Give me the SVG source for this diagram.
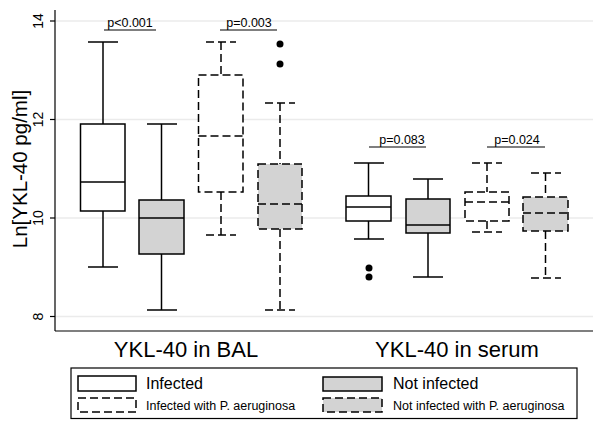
<svg xmlns="http://www.w3.org/2000/svg" width="600" height="429" viewBox="0 0 600 429">
<style>
.grid{stroke:#ebebeb;stroke-width:1.5}
.ax{stroke:#000;stroke-width:1.2;fill:none}
.bx{stroke:#000;stroke-width:1.5;fill:#fff}
.ln{stroke:#000;stroke-width:1.5;fill:none}
.g{fill:#d3d3d3}
.d{stroke-dasharray:8,4}
.pv{stroke:#000;stroke-width:1.2}
text{font-family:"Liberation Sans",Arial,sans-serif;fill:#000}
.tk{font-size:14px;text-anchor:middle}
.p{font-size:12.5px;text-anchor:middle}
.grp{font-size:22px;text-anchor:middle}
</style>
<rect width="600" height="429" fill="#fff"/>
<g id="grid">
<line class="grid" x1="55" y1="21" x2="593" y2="21"/>
<line class="grid" x1="55" y1="119.5" x2="593" y2="119.5"/>
<line class="grid" x1="55" y1="218" x2="593" y2="218"/>
<line class="grid" x1="55" y1="316.5" x2="593" y2="316.5"/>
</g>
<g id="axes">
<line class="ax" x1="55" y1="10" x2="55" y2="331"/>
<line class="ax" x1="55" y1="331" x2="593" y2="331"/>
<line class="ax" x1="50" y1="21" x2="55" y2="21"/>
<line class="ax" x1="50" y1="119.5" x2="55" y2="119.5"/>
<line class="ax" x1="50" y1="218" x2="55" y2="218"/>
<line class="ax" x1="50" y1="316.5" x2="55" y2="316.5"/>
<text class="tk" transform="translate(43,21) rotate(-90)">14</text>
<text class="tk" transform="translate(43,119.5) rotate(-90)">12</text>
<text class="tk" transform="translate(43,218) rotate(-90)">10</text>
<text class="tk" transform="translate(43,316.5) rotate(-90)">8</text>
<text transform="translate(27,169) rotate(-90)" font-size="20.5" text-anchor="middle">Ln[YKL-40 pg/ml]</text>
</g>
<g id="box-bal-infected">
<line class="ln" x1="103" y1="42" x2="103" y2="124"/>
<line class="ln" x1="103" y1="211" x2="103" y2="267"/>
<line class="ln" x1="88" y1="42" x2="118" y2="42"/>
<line class="ln" x1="88" y1="267" x2="118" y2="267"/>
<rect class="bx" x="80.5" y="124" width="44.5" height="87"/>
<line class="ln" x1="80.5" y1="182" x2="125" y2="182"/>
</g>
<g id="box-bal-notinfected">
<line class="ln" x1="161.5" y1="124" x2="161.5" y2="200"/>
<line class="ln" x1="161.5" y1="254" x2="161.5" y2="310"/>
<line class="ln" x1="147" y1="124" x2="177" y2="124"/>
<line class="ln" x1="147" y1="310" x2="177" y2="310"/>
<rect class="bx g" x="139" y="200" width="45" height="54"/>
<line class="ln" x1="139" y1="218" x2="184" y2="218"/>
</g>
<g id="box-bal-pa-infected">
<line class="ln d" x1="221" y1="42" x2="221" y2="75"/>
<line class="ln d" x1="221" y1="192" x2="221" y2="235"/>
<line class="ln d" x1="206" y1="42" x2="236" y2="42"/>
<line class="ln d" x1="206" y1="235" x2="236" y2="235"/>
<rect class="bx d" x="198.5" y="75" width="44.5" height="117"/>
<line class="ln d" x1="198.5" y1="136" x2="243" y2="136"/>
</g>
<g id="box-bal-pa-notinfected">
<line class="ln d" x1="280" y1="103" x2="280" y2="164"/>
<line class="ln d" x1="280" y1="229" x2="280" y2="310"/>
<line class="ln d" x1="265" y1="103" x2="295" y2="103"/>
<line class="ln d" x1="265" y1="310" x2="295" y2="310"/>
<rect class="bx g d" x="258" y="164" width="44" height="65"/>
<line class="ln d" x1="258" y1="204" x2="302" y2="204"/>
<circle cx="280" cy="44" r="3.5"/>
<circle cx="280" cy="64" r="3.5"/>
</g>
<g id="box-serum-infected">
<line class="ln" x1="368.5" y1="163" x2="368.5" y2="196"/>
<line class="ln" x1="368.5" y1="221" x2="368.5" y2="239"/>
<line class="ln" x1="354" y1="163" x2="384" y2="163"/>
<line class="ln" x1="354" y1="239" x2="384" y2="239"/>
<rect class="bx" x="346" y="196" width="45" height="25"/>
<line class="ln" x1="346" y1="207" x2="391" y2="207"/>
<circle cx="369" cy="268" r="3.5"/>
<circle cx="369" cy="277" r="3.5"/>
</g>
<g id="box-serum-notinfected">
<line class="ln" x1="428" y1="179" x2="428" y2="199"/>
<line class="ln" x1="428" y1="233" x2="428" y2="277"/>
<line class="ln" x1="413" y1="179" x2="443" y2="179"/>
<line class="ln" x1="413" y1="277" x2="443" y2="277"/>
<rect class="bx g" x="406" y="199" width="44" height="34"/>
<line class="ln" x1="406" y1="225" x2="450" y2="225"/>
</g>
<g id="box-serum-pa-infected">
<line class="ln d" x1="487" y1="163" x2="487" y2="192"/>
<line class="ln d" x1="487" y1="221" x2="487" y2="232"/>
<line class="ln d" x1="472" y1="163" x2="502" y2="163"/>
<line class="ln d" x1="472" y1="232" x2="502" y2="232"/>
<rect class="bx d" x="465" y="192" width="44" height="29"/>
<line class="ln d" x1="465" y1="202" x2="509" y2="202"/>
</g>
<g id="box-serum-pa-notinfected">
<line class="ln d" x1="545.5" y1="173" x2="545.5" y2="197"/>
<line class="ln d" x1="545.5" y1="231" x2="545.5" y2="278"/>
<line class="ln d" x1="531" y1="173" x2="561" y2="173"/>
<line class="ln d" x1="531" y1="278" x2="561" y2="278"/>
<rect class="bx g d" x="523" y="197" width="45" height="34"/>
<line class="ln d" x1="523" y1="213" x2="568" y2="213"/>
</g>
<g id="pvalues">
<line class="pv" x1="104" y1="30" x2="156" y2="30"/>
<text class="p" x="130" y="27">p&lt;0.001</text>
<line class="pv" x1="220" y1="30" x2="277" y2="30"/>
<text class="p" x="249" y="27">p=0.003</text>
<line class="pv" x1="369" y1="147" x2="426" y2="147"/>
<text class="p" x="402" y="144">p=0.083</text>
<line class="pv" x1="487" y1="147" x2="545" y2="147"/>
<text class="p" x="517" y="144">p=0.024</text>
</g>
<g id="group-labels">
<text class="grp" x="186" y="357">YKL-40 in BAL</text>
<text class="grp" x="457" y="357">YKL-40 in serum</text>
</g>
<g id="legend">
<rect x="71" y="368" width="506" height="50.5" fill="#fff" stroke="#000" stroke-width="1.2"/>
<rect class="bx" x="78" y="376" width="58" height="15"/>
<text x="146" y="389" font-size="16">Infected</text>
<rect class="bx d" x="78" y="398" width="58" height="14"/>
<text x="146" y="410" font-size="12.5">Infected with P. aeruginosa</text>
<rect class="bx g" x="323" y="377" width="59" height="14"/>
<text x="393" y="389" font-size="16">Not infected</text>
<rect class="bx g d" x="323" y="398" width="59" height="14"/>
<text x="393" y="410" font-size="12.5">Not infected with P. aeruginosa</text>
</g>
</svg>
